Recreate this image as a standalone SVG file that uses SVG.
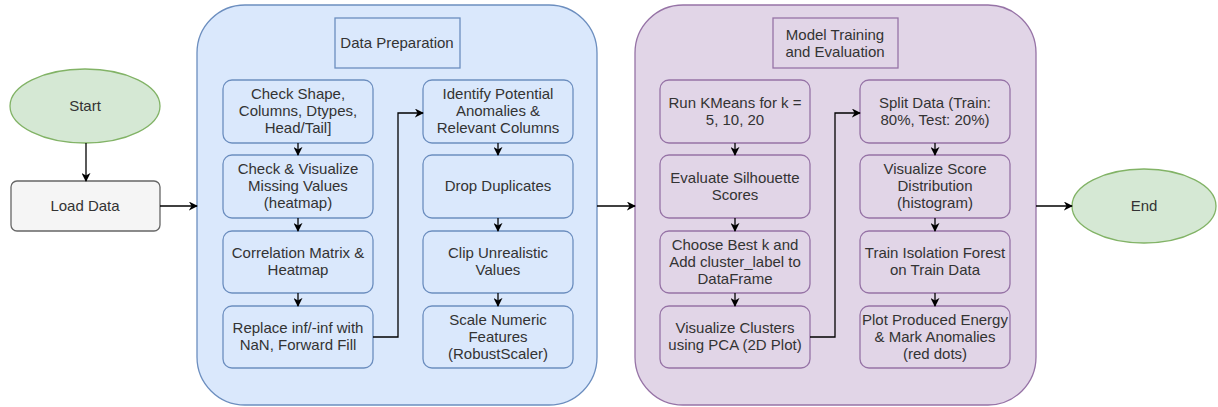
<svg xmlns="http://www.w3.org/2000/svg" width="1218" height="407" viewBox="0 0 1218 407">
<defs>
<marker id="ah" viewBox="0 0 10 10" refX="9" refY="5" markerWidth="9" markerHeight="9" markerUnits="userSpaceOnUse" orient="auto">
<path d="M0,0 L10,5 L0,10 L3,5 Z" fill="#000"/>
</marker>
<style>
text{font-family:"Liberation Sans",Arial,sans-serif;font-size:15px;fill:#333;text-anchor:middle}
.bp{fill:#dae8fc;stroke:#6c8ebf;stroke-width:1.3}
.pp{fill:#e1d5e7;stroke:#9673a6;stroke-width:1.3}
.gr{fill:#d5e8d4;stroke:#82b366;stroke-width:1.3}
.gy{fill:#f5f5f5;stroke:#666;stroke-width:1.3}
.c{fill:none;stroke:#000;stroke-width:1.3;marker-end:url(#ah)}
</style>
</defs>
<g id="panel-prep"><rect class="bp" x="197" y="5" width="400" height="400" rx="48"/></g>
<g id="panel-model"><rect class="pp" x="635" y="5" width="401" height="400" rx="48"/></g>
<g id="start"><ellipse class="gr" cx="85" cy="106" rx="75" ry="37"/><text x="85" y="111">Start</text></g>
<g id="load"><rect class="gy" x="11" y="181" width="149" height="50" rx="6"/><text x="85" y="211">Load Data</text></g>
<g id="end"><ellipse class="gr" cx="1144" cy="206" rx="72" ry="37"/><text x="1144" y="211">End</text></g>
<g id="lbl-prep"><rect class="bp" x="335" y="18" width="125" height="50"/><text x="397" y="48">Data Preparation</text></g>
<g id="lbl-model"><rect class="pp" x="773" y="18" width="125" height="50"/><text x="835" y="40">Model Training</text><text x="835" y="57">and Evaluation</text></g>
<g id="p1"><rect class="bp" x="223" y="80" width="150" height="63" rx="9"/><text x="298" y="99">Check Shape,</text><text x="298" y="116">Columns, Dtypes,</text><text x="298" y="133">Head/Tail]</text></g>
<g id="p2"><rect class="bp" x="223" y="155" width="150" height="63" rx="9"/><text x="298" y="174">Check &amp; Visualize</text><text x="298" y="191">Missing Values</text><text x="298" y="208">(heatmap)</text></g>
<g id="p3"><rect class="bp" x="223" y="231" width="150" height="62" rx="9"/><text x="298" y="258">Correlation Matrix &amp;</text><text x="298" y="275">Heatmap</text></g>
<g id="p4"><rect class="bp" x="223" y="306" width="150" height="62" rx="9"/><text x="298" y="333">Replace inf/-inf with</text><text x="298" y="350">NaN, Forward Fill</text></g>
<g id="p5"><rect class="bp" x="423" y="80" width="150" height="63" rx="9"/><text x="498" y="99">Identify Potential</text><text x="498" y="116">Anomalies &amp;</text><text x="498" y="133">Relevant Columns</text></g>
<g id="p6"><rect class="bp" x="423" y="155" width="150" height="63" rx="9"/><text x="498" y="191">Drop Duplicates</text></g>
<g id="p7"><rect class="bp" x="423" y="231" width="150" height="62" rx="9"/><text x="498" y="258">Clip Unrealistic</text><text x="498" y="275">Values</text></g>
<g id="p8"><rect class="bp" x="423" y="306" width="150" height="62" rx="9"/><text x="498" y="325">Scale Numeric</text><text x="498" y="342">Features</text><text x="498" y="359">(RobustScaler)</text></g>
<g id="m1"><rect class="pp" x="660" y="80" width="150" height="63" rx="9"/><text x="735" y="108">Run KMeans for k =</text><text x="735" y="125">5, 10, 20</text></g>
<g id="m2"><rect class="pp" x="660" y="155" width="150" height="63" rx="9"/><text x="735" y="183">Evaluate Silhouette</text><text x="735" y="200">Scores</text></g>
<g id="m3"><rect class="pp" x="660" y="231" width="150" height="62" rx="9"/><text x="735" y="250">Choose Best k and</text><text x="735" y="267">Add cluster_label to</text><text x="735" y="284">DataFrame</text></g>
<g id="m4"><rect class="pp" x="660" y="306" width="150" height="62" rx="9"/><text x="735" y="333">Visualize Clusters</text><text x="735" y="350">using PCA (2D Plot)</text></g>
<g id="m5"><rect class="pp" x="860" y="80" width="150" height="63" rx="9"/><text x="935" y="108">Split Data (Train:</text><text x="935" y="125">80%, Test: 20%)</text></g>
<g id="m6"><rect class="pp" x="860" y="155" width="150" height="63" rx="9"/><text x="935" y="174">Visualize Score</text><text x="935" y="191">Distribution</text><text x="935" y="208">(histogram)</text></g>
<g id="m7"><rect class="pp" x="860" y="231" width="150" height="62" rx="9"/><text x="935" y="258">Train Isolation Forest</text><text x="935" y="275">on Train Data</text></g>
<g id="m8"><rect class="pp" x="860" y="306" width="150" height="62" rx="9"/><text x="935" y="325">Plot Produced Energy</text><text x="935" y="342">&amp; Mark Anomalies</text><text x="935" y="359">(red dots)</text></g>
<g id="connectors">
<path class="c" d="M86,143 L86,181"/>
<path class="c" d="M160,206 L197,206"/>
<path class="c" d="M597,206 L635,206"/>
<path class="c" d="M1036,206 L1072,206"/>
<path class="c" d="M298,143 L298,155"/>
<path class="c" d="M298,218 L298,231"/>
<path class="c" d="M298,293 L298,306"/>
<path class="c" d="M373,337 L398,337 L398,113 L423,113"/>
<path class="c" d="M498,143 L498,155"/>
<path class="c" d="M498,218 L498,231"/>
<path class="c" d="M498,293 L498,306"/>
<path class="c" d="M735,143 L735,155"/>
<path class="c" d="M735,218 L735,231"/>
<path class="c" d="M735,293 L735,306"/>
<path class="c" d="M810,337 L835,337 L835,113 L860,113"/>
<path class="c" d="M935,143 L935,155"/>
<path class="c" d="M935,218 L935,231"/>
<path class="c" d="M935,293 L935,306"/>
</g>
</svg>
